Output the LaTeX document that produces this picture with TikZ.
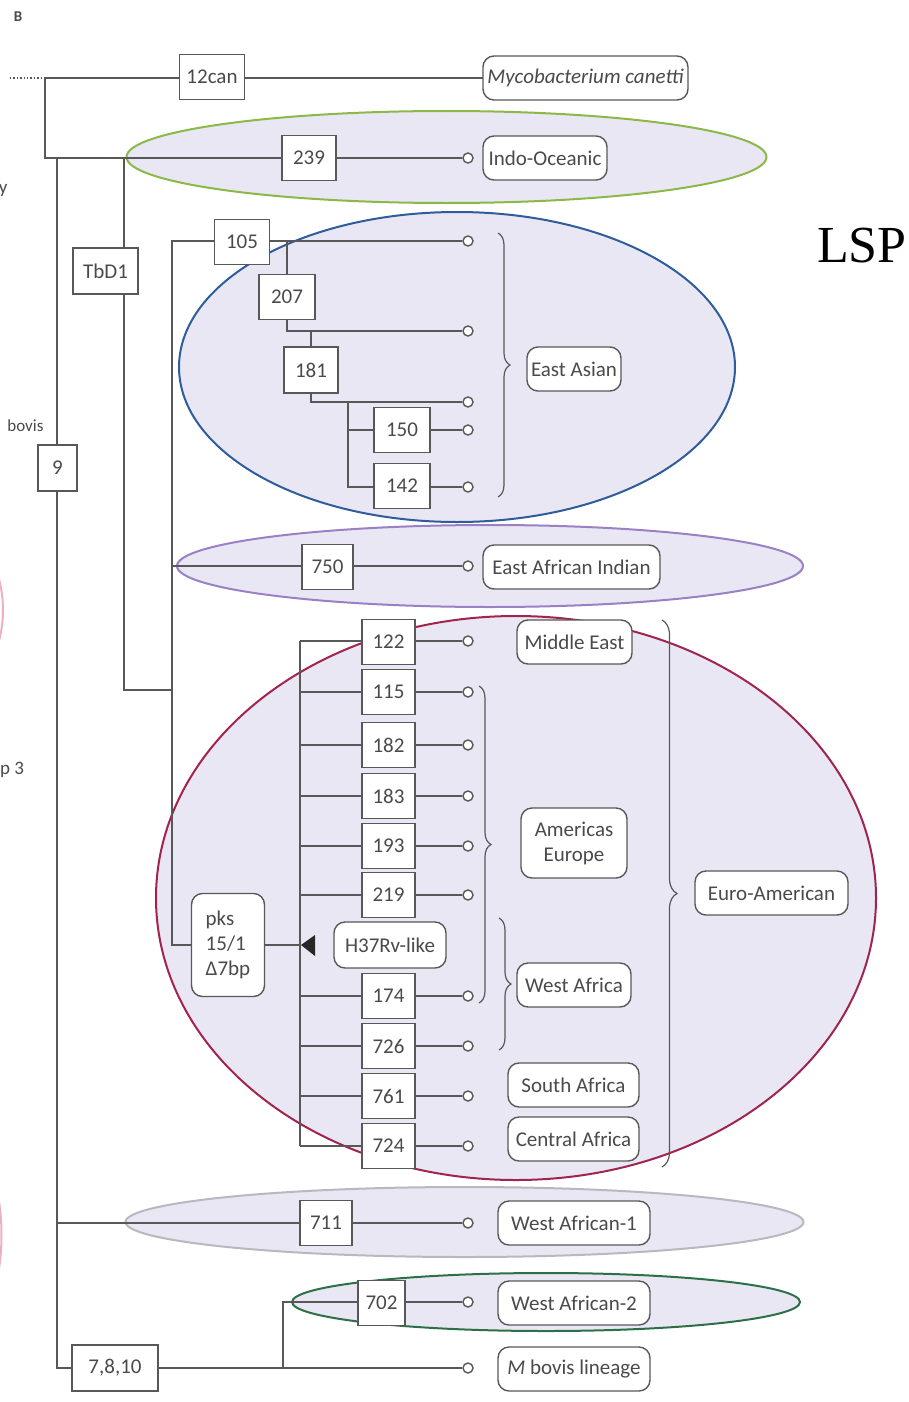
\documentclass[tikz,border=0pt]{standalone}
\usepackage{fontspec}
\setmainfont{Carlito}
\newfontfamily\lspfont{Liberation Serif}
\usetikzlibrary{decorations.pathreplacing}
\definecolor{ink}{HTML}{4A4A4A}
\definecolor{edge}{HTML}{585858}
\definecolor{cladefill}{HTML}{E9E7F3}
\definecolor{cgreen}{HTML}{8CB848}
\definecolor{cblue}{HTML}{2F5C9A}
\definecolor{cpurple}{HTML}{9A80C4}
\definecolor{cred}{HTML}{A0244E}
\definecolor{cgray}{HTML}{B8B8BE}
\definecolor{cdkgreen}{HTML}{2D7047}
\definecolor{cpink}{HTML}{EBB0C4}
\begin{document}
\begin{tikzpicture}[x=1pt,y=-1pt,
  font=\fontsize{21}{25}\selectfont, text=ink,
  link/.style={draw=edge, line width=1.4pt},
  numbox/.style={draw=edge, fill=white, line width=1.4pt, minimum width=53pt,
    minimum height=45pt, inner sep=0pt},
  lbl/.style={draw=edge, fill=white, line width=1.4pt, rounded corners=11pt,
    minimum height=44pt, inner xsep=4pt, inner ysep=0pt},
  tip/.style={circle, draw=edge, fill=white, line width=1.4pt,
    minimum size=10pt, inner sep=0pt},
  clade/.style={fill=cladefill, line width=2pt},
  brc/.style={draw=edge, line width=1.2pt, decorate,
    decoration={brace, amplitude=#1}},
  brc/.default=12pt]
\useasboundingbox (0,0) rectangle (908,1402);

% clade ellipses (behind the tree)
\draw[clade, draw=cgreen]   (446.5,157) ellipse [x radius=320, y radius=46];
\draw[clade, draw=cblue]    (457,367)   ellipse [x radius=278, y radius=155];
\draw[clade, draw=cpurple]  (490,566)   ellipse [x radius=313, y radius=41];
\draw[clade, draw=cred]     (516,898)   ellipse [x radius=360, y radius=282];
\draw[clade, draw=cgray]    (464.5,1222) ellipse [x radius=339, y radius=35];
\draw[clade, draw=cdkgreen] (546,1302)  ellipse [x radius=254, y radius=29];

% fragments of the neighbouring panel, cut at the left edge
\begin{scope}
\clip (0,0) rectangle (908,1402);
\draw[cpink, line width=2pt] (-30,530) .. controls (14,570) and (14,650) .. (-30,690);
\draw[cpink, line width=2pt] (-30,1130) .. controls (12,1180) and (12,1290) .. (-30,1340);
\node[anchor=east, font=\fontsize{19}{22}\selectfont, text=ink] (fy) at (11,190) {y};
\node[anchor=east, font=\fontsize{17}{20}\selectfont, text=ink] (fbovis) at (47,426) {bovis};
\end{scope}
\node[anchor=west, inner sep=0pt, font=\fontsize{19}{22}\selectfont, text=ink] (fgrp) at (0,770) {p 3};

\node[font=\bfseries\fontsize{15}{17}\selectfont, text=ink] (panel) at (18,17) {B};
\node[font=\lspfont\fontsize{52}{52}\selectfont, text=black] (lsp) at (862,246) {LSP};

% ---- junction points
\coordinate (root) at (45,78);
\coordinate (j1) at (45,158);
\coordinate (main) at (57,158);
\coordinate (tbA) at (124,158);
\coordinate (tbB) at (124,690);
\coordinate (spineTop) at (172,241);
\coordinate (spineJoin) at (172,690);
\coordinate (spineEAI) at (172,566);
\coordinate (ea1) at (287,241);
\coordinate (ea2) at (287,331);
\coordinate (ea2b) at (311,331);
\coordinate (ea3) at (311,402);
\coordinate (ea3b) at (348,402);
\coordinate (eu) at (300,641);
\coordinate (j702) at (283,1368);

% ---- tips
\node[tip] (t239) at (468,158) {};
\node[tip] (e1) at (468,241) {};
\node[tip] (e2) at (468,331) {};
\node[tip] (e3) at (468,402) {};
\node[tip] (e4) at (468,430) {};
\node[tip] (e5) at (468,487) {};
\node[tip] (t750) at (468,566) {};
\node[tip] (u1) at (468,641) {};
\node[tip] (u2) at (468,692) {};
\node[tip] (u3) at (468,745) {};
\node[tip] (u4) at (468,796) {};
\node[tip] (u5) at (468,846) {};
\node[tip] (u6) at (468,895) {};
\node[tip] (u8) at (468,996) {};
\node[tip] (u9) at (468,1046) {};
\node[tip] (u10) at (468,1096) {};
\node[tip] (u11) at (468,1146) {};
\node[tip] (t711) at (468,1223) {};
\node[tip] (t702) at (468,1302) {};
\node[tip] (tmb) at (468,1368) {};

% ---- branches
\draw[link, dotted] (10,78) -- (root);
\draw[link] (root) -- (212,78) -- (485,78);
\draw[link] (root) -- (j1) -- (t239);
\draw[link] (main) |- (115,1368) -- (tmb);
\draw[link] (57,1223) -- (t711);
\draw[link] (j702) |- (t702);
\draw[link] (tbA) -- (tbB) -- (spineJoin);
\draw[link] (242,241) -- (e1);
\draw[link] (242,241) -- (spineTop) |- (228,945);
\draw[link] (spineEAI) -- (t750);
\draw[link] (ea1) -- (ea2) -- (e2);
\draw[link] (ea2b) -- (ea3) -- (e3);
\draw[link] (ea3b) |- (e5);
\draw[link] (ea3b |- e4) -- (e4);
\draw[link] (eu) -- (300,1146);
\foreach \t in {u1,u2,u3,u4,u5,u6,u8,u9,u10,u11}
  \draw[link] (eu |- \t) -- (\t);
\draw[link] (228,945) -- (300,945);
\fill[black!85] (301,945) -- (315,935) -- (315,956) -- cycle;

% ---- mutation boxes
\node[numbox, minimum width=65pt] (n12can) at (212,77) {12can};
\node[numbox, minimum width=54pt] (n239) at (309,158) {239};
\node[numbox, minimum width=39pt, minimum height=46pt] (n9) at (57.5,468) {9};
\node[numbox, minimum width=65pt, minimum height=46pt] (tbd1) at (105.5,271) {TbD1};
\node[numbox, minimum width=55pt] (n105) at (242,242) {105};
\node[numbox, minimum width=56pt] (n207) at (287,297) {207};
\node[numbox, minimum width=54pt, minimum height=46pt] (n181) at (311,370) {181};
\node[numbox, minimum width=56pt] (n150) at (402,430) {150};
\node[numbox, minimum width=56pt] (n142) at (402,486) {142};
\node[numbox, minimum width=51pt] (n750) at (327.5,567) {750};
\node[numbox] (b122) at (388.5,642) {122};
\node[numbox] (b115) at (388.5,692) {115};
\node[numbox] (b182) at (388.5,745) {182};
\node[numbox] (b183) at (388.5,796) {183};
\node[numbox] (b193) at (388.5,846) {193};
\node[numbox] (b219) at (388.5,895) {219};
\node[numbox] (b174) at (388.5,996) {174};
\node[numbox] (b726) at (388.5,1046) {726};
\node[numbox] (b761) at (388.5,1096) {761};
\node[numbox] (b724) at (388.5,1146) {724};
\node[numbox, minimum width=52pt] (n711) at (326,1223) {711};
\node[numbox, minimum width=47pt] (n702) at (381.5,1303) {702};
\node[numbox, minimum width=86pt, minimum height=46pt] (n7810) at (115,1368) {7,8,10};
\node[lbl, minimum width=73pt, minimum height=103pt, align=left] (pks) at (228,945)
  {pks\\15/1\\Δ7bp};
\node[lbl, minimum width=112pt, minimum height=46pt] (h37) at (390,945) {H37Rv-like};

% ---- lineage labels
\node[lbl, minimum width=205pt] (canetti) at (585.5,78) {\textit{Mycobacterium canetti}};
\node[lbl, minimum width=124pt] (indo) at (545,158) {Indo-Oceanic};
\node[lbl, minimum width=94pt] (eastasian) at (574,369) {East Asian};
\node[lbl, minimum width=177pt] (eai) at (571.5,567) {East African Indian};
\node[lbl, minimum width=115pt] (mideast) at (574.5,642) {Middle East};
\node[lbl, minimum width=106pt, minimum height=70pt, align=center] (amer) at (574,843)
  {Americas\\Europe};
\node[lbl, minimum width=153pt] (euro) at (771.5,893) {Euro-American};
\node[lbl, minimum width=114pt] (wafr) at (574,985) {West Africa};
\node[lbl, minimum width=131pt] (safr) at (573.5,1085) {South Africa};
\node[lbl, minimum width=131pt] (cafr) at (573.5,1139) {Central Africa};
\node[lbl, minimum width=152pt] (wa1) at (574,1223) {West African-1};
\node[lbl, minimum width=152pt] (wa2) at (574,1303) {West African-2};
\node[lbl, minimum width=152pt] (mbovis) at (574,1369) {\textit{M} bovis lineage};

% ---- braces
\draw[brc] (498,233) -- (498,497);
\draw[brc] (479,686) -- (479,1003);
\draw[brc] (499,918) -- (499,1050);
\draw[brc=15pt] (662,620) -- (662,1167);
\end{tikzpicture}
\end{document}
